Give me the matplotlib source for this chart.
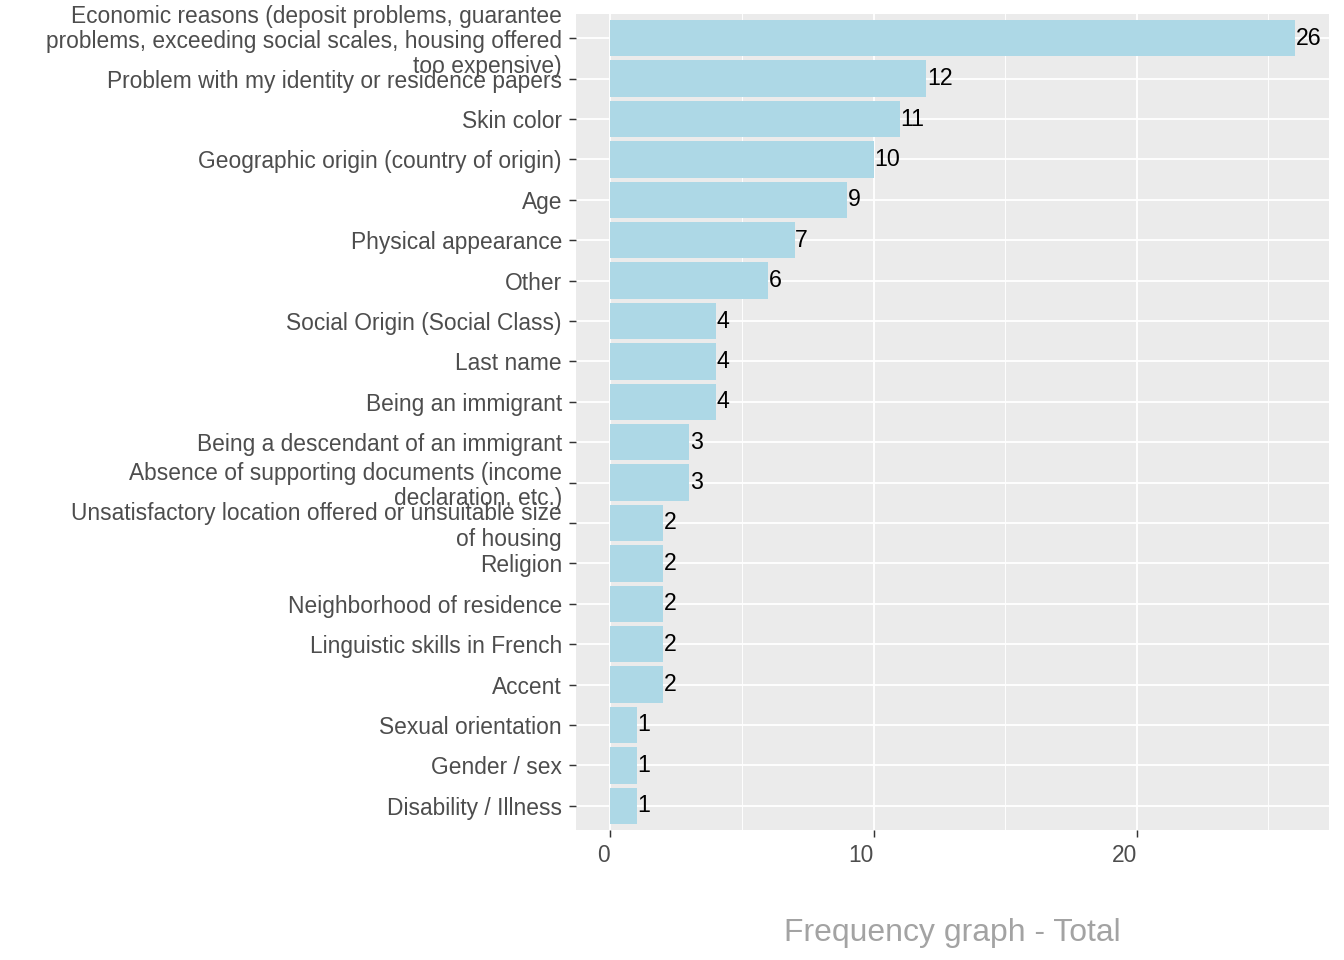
import matplotlib
matplotlib.use("Agg")
import matplotlib.pyplot as plt
from matplotlib.ticker import MultipleLocator

categories = [
    "Economic reasons (deposit problems, guarantee\nproblems, exceeding social scales, housing offered\ntoo expensive)",
    "Problem with my identity or residence papers",
    "Skin color",
    "Geographic origin (country of origin)",
    "Age",
    "Physical appearance",
    "Other",
    "Social Origin (Social Class)",
    "Last name",
    "Being an immigrant",
    "Being a descendant of an immigrant",
    "Absence of supporting documents (income\ndeclaration, etc.)",
    "Unsatisfactory location offered or unsuitable size\nof housing",
    "Religion",
    "Neighborhood of residence",
    "Linguistic skills in French",
    "Accent",
    "Sexual orientation",
    "Gender / sex",
    "Disability / Illness",
]
values = [26, 12, 11, 10, 9, 7, 6, 4, 4, 4, 3, 3, 2, 2, 2, 2, 2, 1, 1, 1]
xticks = [0, 10, 20]
title = "Frequency graph - Total"

plt.rcParams['font.family'] = ['Liberation Sans', 'DejaVu Sans']

fig = plt.figure(figsize=(14, 10), dpi=96)
ax = fig.add_axes([576/1344, 1 - 830/960, (1329-576)/1344, (830-14)/960])
ax.set_facecolor('#EBEBEB')

n = len(categories)
ypos = list(range(n - 1, -1, -1))
ax.barh(ypos, values, height=0.9, color='#ADD8E6', zorder=3)
for y, v in zip(ypos, values):
    ax.text(v + 0.03, y, str(v), ha='left', va='center', fontsize=17.3, color='black', zorder=4)

xmax = max(values)
ax.set_xlim(-0.05 * xmax, xmax * 1.05)
ax.set_ylim(-0.6, n - 1 + 0.6)
ax.set_xticks(xticks)
ax.set_xticklabels([str(t) for t in xticks], ha='right')
ax.xaxis.set_minor_locator(MultipleLocator(5))
ax.set_yticks(ypos)
ax.set_yticklabels(categories, linespacing=1.12)

ax.grid(which='major', color='white', linewidth=1.4, zorder=0)
ax.grid(which='minor', axis='x', color='white', linewidth=0.7, zorder=0)
ax.set_axisbelow(True)
for s in ax.spines.values():
    s.set_visible(False)

ax.tick_params(axis='both', which='major', length=5.5, width=1.1, color='#333333',
               labelsize=17.1, labelcolor='#4D4D4D')
ax.tick_params(axis='y', pad=5)
ax.tick_params(axis='x', which='minor', length=0)
ax.tick_params(axis='x', pad=5)

ax.set_xlabel(title, fontsize=23.9, color='#A3A3A3', labelpad=38)

fig.savefig('out.png', dpi=96)
